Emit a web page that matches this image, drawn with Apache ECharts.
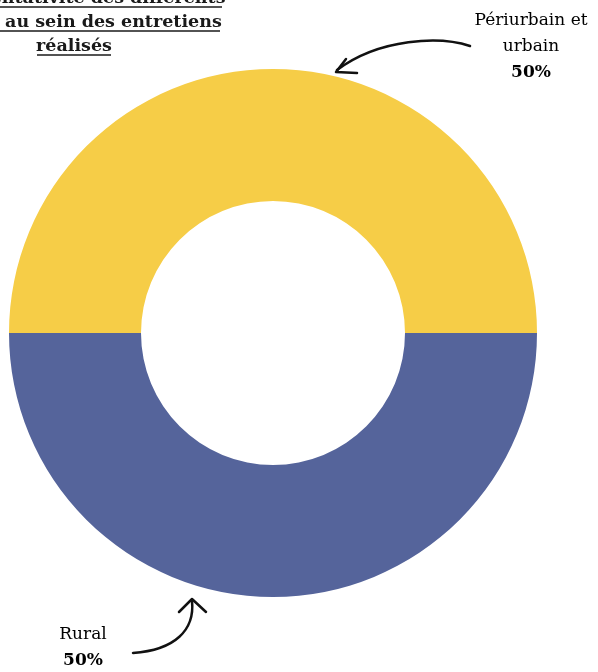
<!DOCTYPE html>
<html>
<head>
<meta charset="utf-8">
<script src="https://cdn.jsdelivr.net/npm/echarts@6/dist/echarts.min.js"></script>
<style>
  html, body { margin: 0; padding: 0; background: #fff; }
  #chart { width: 598px; height: 672px; }
</style>
</head>
<body>
<div id="chart"></div>
<script>
'use strict';

const categories = ['Périurbain et urbain', 'Rural'];
const shares = [50, 50];
const colors = ['#F6CD47', '#55649B'];
const titleLines = ['Représentativité des différents', 'milieux au sein des entretiens', 'réalisés'];

const serif = '"DejaVu Serif", serif';
const ink = '#1a1a1a';

// title is cut by the left/top edge, like the source picture
const titleText = titleLines.map((t, i) => ({
    type: 'text',
    x: 74, y: -2 + i * 24,
    style: { text: t, align: 'center', verticalAlign: 'middle', fill: ink, font: 'bold 17.5px ' + serif }
}));

const underline = [[-80, 222, 7], [-80, 220, 31], [37, 111, 55]].map(u => ({
    type: 'line',
    shape: { x1: u[0], y1: u[2], x2: u[1], y2: u[2] },
    style: { stroke: ink, lineWidth: 1.5 }
}));

const arrowStyle = { stroke: '#111', lineWidth: 2.5, fill: null, lineCap: 'round', lineJoin: 'round' };
const arrows = [
    { type: 'bezierCurve', shape: { x1: 470, y1: 46, cpx1: 440, cpy1: 36, cpx2: 380, cpy2: 38, x2: 337, y2: 70 }, style: arrowStyle },
    { type: 'polyline', shape: { points: [[346, 59], [336, 72], [357, 73]] }, style: arrowStyle },
    { type: 'bezierCurve', shape: { x1: 133, y1: 653, cpx1: 175, cpy1: 650, cpx2: 195, cpy2: 630, x2: 192, y2: 601 }, style: arrowStyle },
    { type: 'polyline', shape: { points: [[179, 612], [192, 599], [206, 612]] }, style: arrowStyle }
];

const labels = [
    { x: 531, y: 8, lines: ['Périurbain et', 'urbain'], value: shares[0] },
    { x: 83, y: 622, lines: [categories[1]], value: shares[1] }
].map(l => ({
    type: 'text',
    x: l.x, y: l.y,
    style: {
        text: l.lines.map(s => '{n|' + s + '}').join('\n') + '\n{v|' + l.value + '%}',
        align: 'center',
        verticalAlign: 'top',
        rich: {
            n: { fontFamily: serif, fontSize: 17, color: '#222', lineHeight: 26, align: 'center' },
            v: { fontFamily: serif, fontSize: 17, fontWeight: 'bold', color: '#222', lineHeight: 26, align: 'center' }
        }
    }
}));

const chart = echarts.init(document.getElementById('chart'));
chart.setOption({
    animation: false,
    color: colors,
    series: [{
        type: 'pie',
        center: [273, 333],
        radius: [132, 264],
        startAngle: 180,
        clockwise: true,
        label: { show: false },
        labelLine: { show: false },
        emphasis: { disabled: true },
        data: categories.map((c, i) => ({ name: c, value: shares[i] }))
    }],
    graphic: [...titleText, ...underline, ...arrows, ...labels]
});
</script>
</body>
</html>
